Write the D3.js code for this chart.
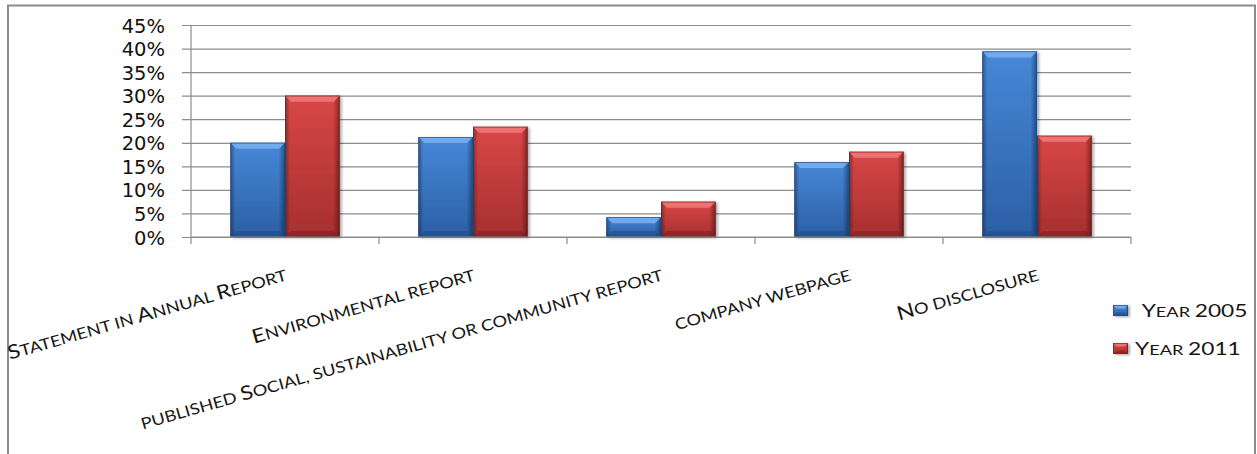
<!DOCTYPE html>
<html>
<head>
<meta charset="utf-8">
<script src="https://cdn.jsdelivr.net/npm/d3@7"></script>
<style>
  html, body { margin: 0; padding: 0; background: #fff; }
  svg { display: block; }
  .cat, .legend text { font-family: Lato, "Open Sans", sans-serif; fill: #151515; }
  .ytick text { font-family: "DejaVu Sans", Verdana, sans-serif; fill: #111; }
</style>
</head>
<body>
<svg id="chart" width="1257" height="454"></svg>
<script>
// Disclosure channels, share of companies (%)
const categories = [
  "Statement in Annual Report",
  "Environmental report",
  "published Social, sustainability or community report",
  "company webpage",
  "No disclosure"
];
const seriesNames = ["Year 2005", "Year 2011"];
const year2005 = [20.0, 21.2, 4.2, 15.9, 39.4];
const year2011 = [30.0, 23.4, 7.5, 18.1, 21.5];
const yTicks = [0, 5, 10, 15, 20, 25, 30, 35, 40, 45];

const palette = {
  "Year 2005": { top: "#4788d8", bottom: "#2b5fa5", light: "#79b2f2", dark: "#1d4a86", edge: "#1f4b82" },
  "Year 2011": { top: "#d94747", bottom: "#a62f2f", light: "#f27a7a", dark: "#7e1d1d", edge: "#7a1f1f" }
};

const svg = d3.select("#chart");
const plot = { left: 191, right: 1131, top: 25, bottom: 237 };

// write a string in small capitals: capitals and digits at full size,
// lower-case letters as reduced capitals
function smallCaps(textSel, str, big, small) {
  const runs = [];
  for (const ch of str) {
    const isBig = /[A-Z0-9]/.test(ch);
    const last = runs[runs.length - 1];
    if (last && last.big === isBig) last.s += ch; else runs.push({ big: isBig, s: ch });
  }
  runs.forEach(r => textSel.append("tspan")
    .attr("font-size", (r.big ? big : small) + "px")
    .text(r.s.toUpperCase()));
}

// outer frame
svg.append("rect")
  .attr("x", 8).attr("y", 5.5)
  .attr("width", 1247).attr("height", 480)
  .attr("fill", "none").attr("stroke", "#8c8c8c").attr("stroke-width", 2);

const x = d3.scaleBand().domain(categories).range([plot.left, plot.right]).padding(0);
const xs = d3.scaleBand().domain(seriesNames).range([0, x.bandwidth()])
  .paddingInner(0).paddingOuter(0.72);
const y = d3.scaleLinear().domain([0, 45]).range([plot.bottom, plot.top]);

const defs = svg.append("defs");
seriesNames.forEach((s, i) => {
  const c = palette[s];
  const g = defs.append("linearGradient").attr("id", "body" + i)
    .attr("x1", 0).attr("y1", 0).attr("x2", 0).attr("y2", 1);
  g.append("stop").attr("offset", "0%").attr("stop-color", c.top);
  g.append("stop").attr("offset", "100%").attr("stop-color", c.bottom);
});
const side = defs.append("linearGradient").attr("id", "sides")
  .attr("x1", 0).attr("y1", 0).attr("x2", 1).attr("y2", 0);
[["0%", 0.35], ["9%", 0.0], ["88%", 0.0], ["100%", 0.4]].forEach(([o, a]) =>
  side.append("stop").attr("offset", o).attr("stop-color", "#000").attr("stop-opacity", a));
const shadow = defs.append("filter").attr("id", "shadow")
  .attr("x", "-20%").attr("y", "-20%").attr("width", "140%").attr("height", "140%");
shadow.append("feDropShadow").attr("dx", 2).attr("dy", 1).attr("stdDeviation", 1.6)
  .attr("flood-color", "#000").attr("flood-opacity", 0.35);

// gridlines and y ticks
const yAxis = d3.axisLeft(y).tickValues(yTicks)
  .tickSize(-(plot.right - plot.left)).tickPadding(0).tickFormat(d => d + "%");
const ya = svg.append("g").attr("class", "ytick")
  .attr("transform", `translate(${plot.left},0)`).call(yAxis);
ya.select(".domain").remove();
ya.selectAll(".tick line").attr("stroke", "#8c8c8c").attr("stroke-width", 1.2)
  .attr("x1", -9);
ya.selectAll(".tick text").attr("x", -26).attr("font-size", "19.5px")
  .attr("dy", "0.36em").attr("text-anchor", "end");

// y axis line
svg.append("line")
  .attr("x1", plot.left).attr("x2", plot.left)
  .attr("y1", plot.top).attr("y2", plot.bottom + 7)
  .attr("stroke", "#8c8c8c").attr("stroke-width", 1.2);

// x axis boundary ticks
const bounds = categories.map(c => x(c) + x.bandwidth());
svg.append("g").selectAll("line").data(bounds).join("line")
  .attr("x1", d => d).attr("x2", d => d)
  .attr("y1", plot.bottom).attr("y2", plot.bottom + 7)
  .attr("stroke", "#8c8c8c").attr("stroke-width", 1.2);

// bars
const rows = categories.flatMap((c, ci) => seriesNames.map((s, si) => ({
  cat: c, series: s, si, value: si === 0 ? year2005[ci] : year2011[ci]
})));

function bevelBar(g, x0, y0, w, h, si, b) {
  const c = palette[seriesNames[si]];
  g.append("rect").attr("x", x0).attr("y", y0).attr("width", w).attr("height", h)
    .attr("fill", `url(#body${si})`).attr("filter", "url(#shadow)");
  g.append("rect").attr("x", x0).attr("y", y0).attr("width", w).attr("height", h)
    .attr("fill", "url(#sides)");
  const bb = Math.min(b, h / 2);
  // top bevel
  g.append("path")
    .attr("d", `M${x0},${y0}L${x0 + w},${y0}L${x0 + w - bb},${y0 + bb}L${x0 + bb},${y0 + bb}Z`)
    .attr("fill", c.light).attr("opacity", 0.85);
  // bottom bevel
  g.append("path")
    .attr("d", `M${x0},${y0 + h}L${x0 + w},${y0 + h}L${x0 + w - bb},${y0 + h - bb}L${x0 + bb},${y0 + h - bb}Z`)
    .attr("fill", c.dark).attr("opacity", 0.55);
  g.append("rect").attr("x", x0 + 0.4).attr("y", y0 + 0.4)
    .attr("width", w - 0.8).attr("height", h - 0.8)
    .attr("fill", "none").attr("stroke", c.edge).attr("stroke-width", 0.8).attr("opacity", 0.8);
}

const barG = svg.append("g");
rows.forEach(d => {
  const g = barG.append("g");
  const x0 = x(d.cat) + xs(d.series);
  bevelBar(g, x0, y(d.value), xs.bandwidth(), y(0) - y(d.value), d.si, 6);
});

// x axis line on top of bar bases
svg.append("line")
  .attr("x1", plot.left).attr("x2", plot.right)
  .attr("y1", plot.bottom).attr("y2", plot.bottom)
  .attr("stroke", "#8c8c8c").attr("stroke-width", 1.2);

// rotated category labels, anchored at their end, set a little wide
svg.append("g").selectAll("text").data(categories).join("text")
  .attr("class", "cat")
  .attr("text-anchor", "end")
  .attr("transform", c => `translate(${x(c) + x.bandwidth() / 2 + 3},${plot.bottom + 43}) rotate(-16) scale(1.18,1)`)
  .each(function (c) { smallCaps(d3.select(this), c, 19.5, 15.5); });

// legend
const legend = svg.append("g").attr("class", "legend");
const legendRows = [
  { label: " " + seriesNames[0], ky: 305, ty: 317, tx: 1137 },
  { label: seriesNames[1], ky: 343, ty: 355, tx: 1135 }
];
legendRows.forEach((r, i) => {
  const g = legend.append("g");
  bevelBar(g, 1113, r.ky, 15, 11, i, 3.5);
  const t = g.append("text")
    .attr("transform", `translate(${r.tx},${r.ty}) scale(1.3,1)`)
    .attr("xml:space", "preserve");
  smallCaps(t, r.label, 17.5, 14);
});
</script>
</body>
</html>
